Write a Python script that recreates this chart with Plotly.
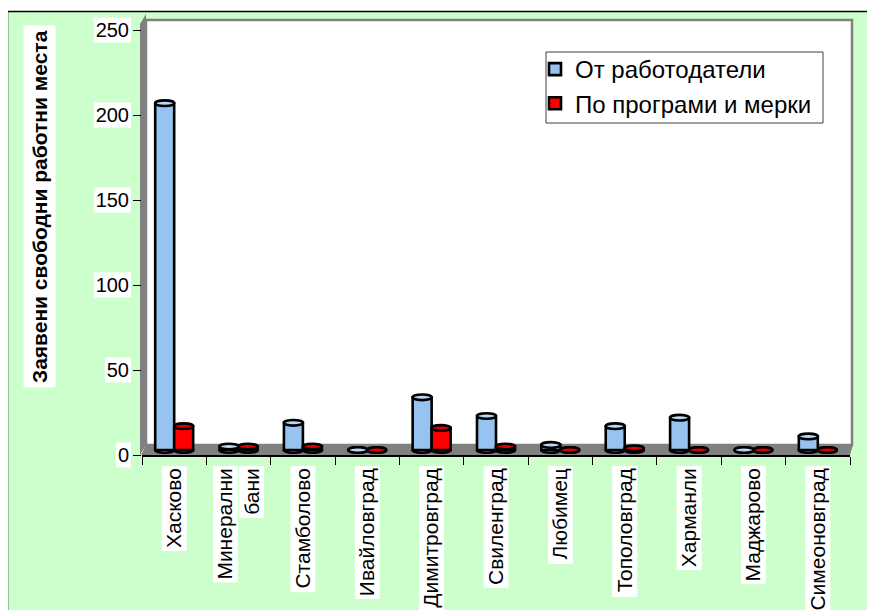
import plotly.graph_objects as go

# ---------------- data ----------------
categories = ["Хасково", "Минерални бани", "Стамболово", "Ивайловград", "Димитровград",
              "Свиленград", "Любимец", "Тополовград", "Харманли", "Маджарово", "Симеоновград"]
tick_labels = ["Хасково", "Минерални<br>бани", "Стамболово", "Ивайловград", "Димитровград",
               "Свиленград", "Любимец", "Тополовград", "Харманли", "Маджарово", "Симеоновград"]
employers = [204, 2, 16, 0, 31, 20, 3, 14, 19, 0, 8]
programs = [14, 2, 2, 0, 13, 2, 0, 1, 0, 0, 0]
series_names = ["От работодатели", "По програми и мерки"]
y_ticks = [0, 50, 100, 150, 200, 250]
y_title = "Заявени свободни работни места"

# ---------------- geometry helpers (screen pixels -> paper) ----------------
OFF = 8                         # page body margin
SW, SH = 875, 610               # screen size
W, H = SW - OFF, SH - OFF       # figure size
L, R, T, B = 142, 850, 30, 455  # plot area in screen pixels
PXU = (B - T) / 250.0           # pixels per unit
def px(x):
    return (x - L) / (R - L)
def py(y):
    return (B - y) / (B - T)

FONT = "Arial, Liberation Sans, sans-serif"
BLUE, BLUE_CAP = "#97C3F0", "#B8D8F8"
RED, RED_CAP = "#FF0000", "#E00000"
GREY = "#808080"
GREEN = "#CCFFCC"
XFS = 21                        # category label font size

BARGAP = 0.41
bw = (1 - BARGAP) / 2
shift = 5 / PXU                 # depth offset: bar base sits 5px above the front edge
cap_h = 2.8 / PXU
OUT = 2.6                       # outline width

# approximate Arial advance widths (per 1000 em)
CW = {'А':667,'Б':656,'В':667,'Г':542,'Д':688,'Е':667,'Ж':917,'З':604,'И':719,'Й':719,'К':583,
      'Л':656,'М':833,'Н':722,'О':778,'П':719,'Р':667,'С':722,'Т':611,'У':635,'Ф':760,'Х':667,
      'Ц':740,'Ч':667,'Ш':917,'Щ':938,'Ъ':792,'Ь':656,'Ю':1010,'Я':722,
      'а':556,'б':573,'в':531,'г':365,'д':583,'е':556,'ж':669,'з':458,'и':559,'й':559,'к':438,
      'л':583,'м':688,'н':552,'о':556,'п':542,'р':556,'с':500,'т':458,'у':500,'ф':823,'х':500,
      'ц':573,'ч':521,'ш':802,'щ':823,'ъ':625,'ь':521,'ю':823,'я':542,' ':278}
def tw(s, size):
    return sum(CW.get(c, 556) for c in s) * size / 1000.0

shapes = []
# outer green chart area with black border (top & left visible)
shapes.append(dict(type="rect", xref="paper", yref="paper", layer="below",
                   x0=px(7.5), x1=px(900), y0=py(640), y1=py(11.5),
                   fillcolor=GREEN, line=dict(color="black", width=1.5)))
# white boxes behind y tick labels
for v in y_ticks:
    w = tw(str(v), 20) + 4
    yc = B - v * PXU
    shapes.append(dict(type="rect", xref="paper", yref="paper", layer="below",
                       x0=px(131 - w), x1=px(131), y0=py(yc + 12.5), y1=py(yc - 12.5),
                       fillcolor="white", line=dict(width=0)))
# white boxes behind category labels
cat_w = (R - L) / len(categories)
for i, lab in enumerate(tick_labels):
    lines = lab.split("<br>")
    cx = L + (i + 0.5) * cat_w
    n = len(lines)
    for j, ln in enumerate(lines):
        lx = cx + (j - (n - 1) / 2) * 26
        h = tw(ln, XFS) + 5
        shapes.append(dict(type="rect", xref="paper", yref="paper", layer="below",
                           x0=px(lx - 12.5), x1=px(lx + 12.5), y0=py(466 + h), y1=py(466),
                           fillcolor="white", line=dict(width=0)))
# left side wall
shapes.append(dict(type="path", xref="paper", yref="paper", layer="below",
                   path=f"M{px(140)},{py(455)} L{px(140)},{py(24)} L{px(146)},{py(14)} L{px(146)},{py(445)} Z",
                   fillcolor=GREY, line=dict(width=0)))
# back wall
shapes.append(dict(type="rect", xref="paper", yref="paper", layer="below",
                   x0=px(146), x1=px(852), y0=py(445), y1=py(20),
                   fillcolor="white", line=dict(color=GREY, width=2.5)))
# floor
shapes.append(dict(type="path", xref="paper", yref="paper", layer="below",
                   path=f"M{px(141)},{py(455)} L{px(850)},{py(455)} L{px(853)},{py(445)} L{px(146)},{py(445)} Z",
                   fillcolor=GREY, line=dict(width=0)))
# legend frame
shapes.append(dict(type="rect", xref="paper", yref="paper", layer="below",
                   x0=px(546), x1=px(823), y0=py(123), y1=py(52),
                   fillcolor="white", line=dict(color="#404040", width=1)))

# cylinder caps
for vals, off, col, capcol in [(employers, -bw / 2, BLUE, BLUE_CAP), (programs, bw / 2, RED, RED_CAP)]:
    for i, v in enumerate(vals):
        c = i + off
        shapes.append(dict(type="circle", xref="x", yref="y2", layer="below",
                           x0=c - bw / 2, x1=c + bw / 2, y0=-cap_h, y1=cap_h,
                           fillcolor=col, line=dict(color="black", width=OUT)))
        shapes.append(dict(type="circle", xref="x", yref="y2", layer="above",
                           x0=c - bw / 2, x1=c + bw / 2, y0=v - cap_h, y1=v + cap_h,
                           fillcolor=capcol, line=dict(color="black", width=OUT)))

fig = go.Figure()
# invisible trace anchoring the value axis (so its ticks are drawn)
fig.add_trace(go.Scatter(x=categories, y=employers, mode="markers", marker=dict(opacity=0),
                         showlegend=False, hoverinfo="skip"))
fig.add_trace(go.Bar(x=categories, y=employers, name=series_names[0], yaxis="y2",
                     marker=dict(color=BLUE, line=dict(color="black", width=OUT))))
fig.add_trace(go.Bar(x=categories, y=programs, name=series_names[1], yaxis="y2",
                     marker=dict(color=RED, line=dict(color="black", width=OUT))))

fig.update_layout(
    width=W, height=H,
    margin=dict(l=L - OFF, r=SW - R, t=T - OFF, b=SH - B, pad=0, autoexpand=False),
    paper_bgcolor="white", plot_bgcolor="rgba(0,0,0,0)",
    font=dict(family=FONT, color="black", size=20),
    barmode="group", bargap=BARGAP, bargroupgap=0,
    shapes=shapes,
    showlegend=True,
    legend=dict(x=px(535), y=py(47), xanchor="left", yanchor="top",
                bgcolor="rgba(0,0,0,0)", borderwidth=0,
                font=dict(size=24, family=FONT)),
    xaxis=dict(type="category", categoryorder="array", categoryarray=categories,
               range=[-0.5, len(categories) - 0.5], automargin=False,
               tickmode="array", tickvals=categories, ticktext=tick_labels,
               tickangle=-90, tickson="boundaries", ticks="outside", ticklen=8,
               tickcolor="black", tickwidth=1, showline=True, linecolor="black", linewidth=1.5,
               showgrid=False, zeroline=False, tickfont=dict(size=XFS), ticklabelstandoff=3),
    yaxis=dict(range=[0, 250], tickmode="array", tickvals=y_ticks, ticks="outside", ticklen=8,
               tickcolor="black", tickwidth=1, showline=False, showgrid=False, zeroline=False,
               tickfont=dict(size=20), automargin=False),
    yaxis2=dict(range=[-shift, 250 - shift], overlaying="y", visible=False),
    annotations=[dict(text=f"<b>{y_title}</b>", xref="paper", yref="paper", x=px(39), y=py(207),
                      xanchor="center", yanchor="middle", textangle=-90, showarrow=False,
                      bgcolor="white", borderpad=4, font=dict(size=21, family=FONT))],
)
fig.update_traces(hoverinfo="skip")
fig.write_html("out.html")
